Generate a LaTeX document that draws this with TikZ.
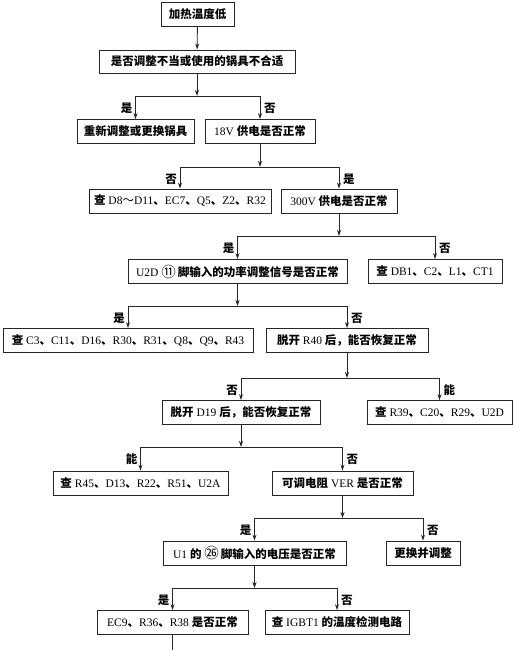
\documentclass[tikz,border=0pt]{standalone}
\usepackage{fontspec}
\setmainfont{Liberation Serif}
\newfontfamily\zhfont{Noto Sans CJK SC}
\newcommand\zh[1]{{\zhfont\bfseries #1}}
\newcommand\zhr[1]{{\zhfont #1}}
\newcommand\circnum[1]{{\zhfont\fontsize{14.5}{13}\selectfont\raisebox{-0.5pt}{#1}}}
\usetikzlibrary{arrows.meta}
\begin{document}
\begin{tikzpicture}[x=1pt,y=-1pt,
  box/.style={draw=black!85,line width=0.9pt,inner sep=0pt,minimum height=24pt,font=\fontsize{11.5}{13}\selectfont,align=center},
  lbl/.style={inner sep=1pt,font=\fontsize{11.5}{13}\selectfont\zhfont\bfseries},
  ln/.style={draw=black!85,line width=0.9pt},
  arr/.style={ln,-{Stealth[length=6pt,width=4pt]}}]
\useasboundingbox (0,0) rectangle (513,650);
\node[box,minimum width=73pt] (b1) at (197.5,14) {\zh{加热温度低}};
\node[box,minimum width=196pt,minimum height=23pt] (b2) at (197,61.5) {\zh{是否调整不当或使用的锅具不合适}};
\node[box,minimum width=117pt] (b3) at (135.5,131.5) {\zh{重新调整或更换锅具}};
\node[box,minimum width=110pt] (b4) at (260,131.5) {18V \zh{供电是否正常}};
\node[box,minimum width=182pt] (b5) at (180,201) {\zh{查} D8\zhr{～}D11\zh{、}EC7\zh{、}Q5\zh{、}Z2\zh{、}R32};
\node[box,minimum width=116pt] (b6) at (339,201) {300V \zh{供电是否正常}};
\node[box,minimum width=219pt] (b7) at (237.5,271.5) {U2D \circnum{⑪}\,\zh{脚输入的功率调整信号是否正常}};
\node[box,minimum width=134pt] (b8) at (435,271.5) {\zh{查} DB1\zh{、}C2\zh{、}L1\zh{、}CT1};
\node[box,minimum width=250pt] (b9) at (128,340.5) {\zh{查} C3\zh{、}C11\zh{、}D16\zh{、}R30\zh{、}R31\zh{、}Q8\zh{、}Q9\zh{、}R43};
\node[box,minimum width=162pt] (b10) at (347,340.5) {\zh{脱开} R40 \zh{后，能否恢复正常}};
\node[box,minimum width=158pt] (b11) at (241,412.5) {\zh{脱开} D19 \zh{后，能否恢复正常}};
\node[box,minimum width=145pt] (b12) at (439.5,412.5) {\zh{查} R39\zh{、}C20\zh{、}R29\zh{、}U2D};
\node[box,minimum width=175pt] (b13) at (140.5,483) {\zh{查} R45\zh{、}D13\zh{、}R22\zh{、}R51\zh{、}U2A};
\node[box,minimum width=141pt] (b14) at (342.5,483) {\zh{可调电阻} VER \zh{是否正常}};
\node[box,minimum width=183pt] (b15) at (254.5,553) {U1 \zh{的} \circnum{㉖}\,\zh{脚输入的电压是否正常}};
\node[box,minimum width=74pt] (b16) at (423,553) {\zh{更换并调整}};
\node[box,minimum width=151pt] (b17) at (172.5,622.5) {EC9\zh{、}R36\zh{、}R38 \zh{是否正常}};
\node[box,minimum width=144pt] (b18) at (337,622.5) {\zh{查} IGBT1 \zh{的温度检测电路}};
\coordinate (j1) at (197,96);
\coordinate (j2) at (260,167);
\coordinate (j3) at (339,236);
\coordinate (j4) at (237.5,306);
\coordinate (j5) at (347,378);
\coordinate (j6) at (241,447);
\coordinate (j7) at (342.5,518);
\coordinate (j8) at (254.5,588);
\coordinate (end) at (172.5,650);
\draw[arr] (b1) -- (b2);
\foreach \p/\j/\l/\r/\ll/\rl in {b2/j1/b3/b4/是/否, b4/j2/b5/b6/否/是, b6/j3/b7/b8/是/否, b7/j4/b9/b10/是/否, b10/j5/b11/b12/否/能, b11/j6/b13/b14/能/否, b14/j7/b15/b16/是/否, b15/j8/b17/b18/是/否}{
  \draw[arr] (\p) -- (\j);
  \draw[ln] (\j -| \l) -- (\j -| \r);
  \draw[arr] (\j -| \l) -- (\l);
  \draw[arr] (\j -| \r) -- (\r);
  \path (\j -| \l) ++(-2,12) node[lbl,anchor=east] (\l-lab) {\ll};
  \path (\j -| \r) ++(3,12) node[lbl,anchor=west] (\r-lab) {\rl};
}
\draw[ln] (b17) -- (end);
\end{tikzpicture}
\end{document}
